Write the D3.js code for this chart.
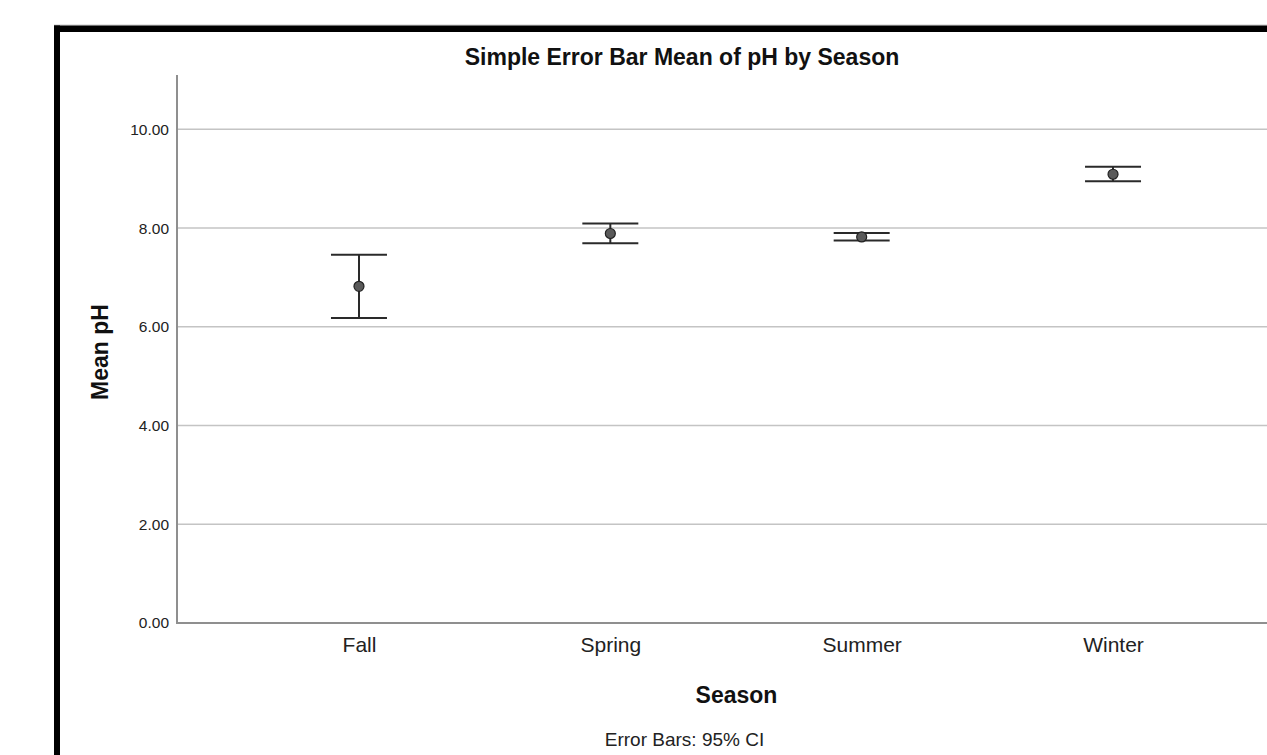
<!DOCTYPE html>
<html>
<head>
<meta charset="utf-8">
<script src="https://cdn.jsdelivr.net/npm/d3@7"></script>
<style>
  html, body { margin: 0; padding: 0; background: #fff; }
  svg { display: block; font-family: "Liberation Sans", Arial, sans-serif; }
</style>
</head>
<body>
<svg id="chart" width="1267" height="755"></svg>
<script>
// Mean pH by season with 95% confidence intervals
const seasons = ["Fall", "Spring", "Summer", "Winter"];
const meanPH = [6.82, 7.89, 7.82, 9.09];
const ciLower = [6.18, 7.69, 7.75, 8.95];
const ciUpper = [7.46, 8.09, 7.90, 9.24];
const yTicks = [0, 2, 4, 6, 8, 10];

(function () {
  const svg = d3.select("#chart");

  // chart frame
  svg.append("line").attr("x1", 54).attr("x2", 1267).attr("y1", 25).attr("y2", 25)
    .attr("stroke", "#c8c8c8").attr("stroke-width", 1);
  svg.append("rect").attr("x", 54).attr("y", 25.5).attr("width", 1213).attr("height", 6.5).attr("fill", "#000");
  svg.append("rect").attr("x", 54).attr("y", 25.5).attr("width", 6).attr("height", 730).attr("fill", "#000");

  const plotLeft = 177, plotRight = 1295, plotTop = 75, plotBottom = 623;

  const y = d3.scaleLinear().domain([0, 11.1]).range([plotBottom, plotTop]);
  const x = d3.scalePoint().domain(seasons).range([plotLeft, plotRight]).padding(0.724);

  // gridlines
  svg.append("g").selectAll("line").data(yTicks.filter(d => d > 0)).join("line")
    .attr("x1", plotLeft).attr("x2", 1267)
    .attr("y1", d => y(d)).attr("y2", d => y(d))
    .attr("stroke", "#c4c4c4").attr("stroke-width", 1.5);

  // y axis
  const yAxis = svg.append("g").attr("transform", `translate(${plotLeft},0)`)
    .call(d3.axisLeft(y).tickValues(yTicks).tickSize(0).tickPadding(8).tickFormat(d3.format(".2f")));
  yAxis.select(".domain").remove();
  yAxis.selectAll("text").attr("font-size", 15.5).attr("fill", "#222")
    .attr("font-family", "Liberation Sans, Arial, sans-serif");
  svg.append("line").attr("x1", plotLeft).attr("x2", plotLeft).attr("y1", plotTop).attr("y2", plotBottom + 1)
    .attr("stroke", "#8f8f8f").attr("stroke-width", 2);

  // x axis
  svg.append("line").attr("x1", plotLeft - 1).attr("x2", 1267).attr("y1", plotBottom).attr("y2", plotBottom)
    .attr("stroke", "#8f8f8f").attr("stroke-width", 2);
  const xAxis = svg.append("g").attr("transform", `translate(0,${plotBottom})`)
    .call(d3.axisBottom(x).tickSize(0).tickPadding(14));
  xAxis.select(".domain").remove();
  xAxis.selectAll("text").attr("font-size", 21).attr("fill", "#222")
    .attr("font-family", "Liberation Sans, Arial, sans-serif").attr("dy", "0.71em");

  // error bars
  const rows = seasons.map((s, i) => ({ s, m: meanPH[i], lo: ciLower[i], hi: ciUpper[i] }));
  const capHalf = 28;
  const bars = svg.append("g").selectAll("g").data(rows).join("g");
  bars.append("line")
    .attr("x1", d => x(d.s)).attr("x2", d => x(d.s))
    .attr("y1", d => y(d.hi)).attr("y2", d => y(d.lo))
    .attr("stroke", "#2a2a2a").attr("stroke-width", 2);
  bars.append("line")
    .attr("x1", d => x(d.s) - capHalf).attr("x2", d => x(d.s) + capHalf)
    .attr("y1", d => y(d.hi)).attr("y2", d => y(d.hi))
    .attr("stroke", "#2a2a2a").attr("stroke-width", 2);
  bars.append("line")
    .attr("x1", d => x(d.s) - capHalf).attr("x2", d => x(d.s) + capHalf)
    .attr("y1", d => y(d.lo)).attr("y2", d => y(d.lo))
    .attr("stroke", "#2a2a2a").attr("stroke-width", 2);
  bars.append("circle")
    .attr("cx", d => x(d.s)).attr("cy", d => y(d.m)).attr("r", 5)
    .attr("fill", "#5a5a5a").attr("stroke", "#222").attr("stroke-width", 1.2);

  // titles
  svg.append("text").attr("x", 682).attr("y", 64.5).attr("text-anchor", "middle")
    .attr("font-size", 23).attr("font-weight", "bold").attr("fill", "#111")
    .text("Simple Error Bar Mean of pH by Season");
  svg.append("text").attr("transform", "translate(108,352) rotate(-90)").attr("text-anchor", "middle")
    .attr("font-size", 23).attr("font-weight", "bold").attr("fill", "#111")
    .text("Mean pH");
  svg.append("text").attr("x", 736.5).attr("y", 703).attr("text-anchor", "middle")
    .attr("font-size", 23).attr("font-weight", "bold").attr("fill", "#111")
    .text("Season");
  svg.append("text").attr("x", 684.5).attr("y", 746).attr("text-anchor", "middle")
    .attr("font-size", 19).attr("fill", "#222")
    .text("Error Bars: 95% CI");
})();
</script>
</body>
</html>
